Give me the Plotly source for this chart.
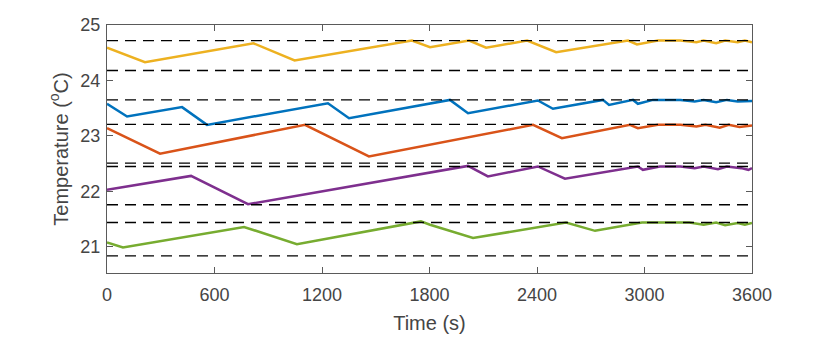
import plotly.graph_objects as go

# Time (s) and temperature (°C) for each zone
t_yellow = [0, 212, 818, 1047, 1702, 1803, 2021, 2116, 2345, 2507, 2908, 2958, 3075, 3200, 3290, 3330, 3400, 3450, 3520, 3560, 3600]
T_yellow = [24.59, 24.33, 24.67, 24.36, 24.72, 24.60, 24.72, 24.59, 24.72, 24.51, 24.72, 24.65, 24.72, 24.72, 24.69, 24.72, 24.67, 24.72, 24.69, 24.72, 24.69]

t_blue = [0, 112, 419, 558, 1233, 1351, 1914, 2015, 2405, 2489, 2768, 2802, 2936, 2963, 3047, 3200, 3280, 3330, 3400, 3460, 3520, 3600]
T_blue = [23.58, 23.35, 23.52, 23.20, 23.59, 23.32, 23.65, 23.41, 23.64, 23.49, 23.65, 23.56, 23.65, 23.58, 23.65, 23.65, 23.62, 23.65, 23.61, 23.65, 23.62, 23.63]

t_red = [0, 296, 1105, 1462, 2378, 2539, 2919, 2963, 3075, 3200, 3290, 3340, 3420, 3470, 3530, 3600]
T_red = [23.14, 22.68, 23.20, 22.63, 23.20, 22.96, 23.20, 23.14, 23.20, 23.20, 23.17, 23.20, 23.15, 23.20, 23.16, 23.19]

t_purple = [0, 469, 787, 2015, 2126, 2405, 2556, 2963, 2991, 3086, 3200, 3280, 3330, 3410, 3460, 3540, 3580, 3600]
T_purple = [22.03, 22.28, 21.77, 22.46, 22.27, 22.45, 22.23, 22.45, 22.39, 22.45, 22.45, 22.42, 22.45, 22.40, 22.45, 22.42, 22.39, 22.42]

t_green = [0, 89, 765, 1060, 1752, 1803, 2043, 2562, 2724, 2986, 3100, 3250, 3330, 3400, 3450, 3520, 3560, 3600]
T_green = [21.08, 20.99, 21.36, 21.05, 21.46, 21.40, 21.16, 21.44, 21.29, 21.44, 21.44, 21.44, 21.40, 21.44, 21.39, 21.43, 21.40, 21.43]

# Comfort band limits (dashed lines)
limits = [24.72, 24.18, 23.65, 23.21, 22.51, 22.45, 21.76, 21.44, 20.84]

x_ticks = [0, 600, 1200, 1800, 2400, 3000, 3600]
y_ticks = [21, 22, 23, 24, 25]

series = [
    (t_yellow, T_yellow, "#EDB120"),
    (t_blue, T_blue, "#0072BD"),
    (t_red, T_red, "#D95319"),
    (t_purple, T_purple, "#7E2F8E"),
    (t_green, T_green, "#77AC30"),
]

fig = go.Figure()
for t, T, c in series:
    fig.add_trace(go.Scatter(x=t, y=T, mode="lines", line=dict(color=c, width=2.5),
                             showlegend=False, hoverinfo="skip"))
for v in limits:
    fig.add_trace(go.Scatter(x=[0, 3600], y=[v, v], mode="lines",
                             line=dict(color="black", width=1.3, dash="11px,7px"),
                             showlegend=False, hoverinfo="skip"))

font_fam = "Liberation Sans Narrow, Liberation Sans, Arial, sans-serif"
txt_color = "#454545"
axis_common = dict(showgrid=False, zeroline=False, showline=True, linecolor="#5a5a5a",
                   linewidth=1, mirror="ticks", ticks="inside", ticklen=6, tickcolor="#5a5a5a",
                   tickfont=dict(family=font_fam, size=18, color=txt_color))

fig.update_layout(
    width=830, height=337,
    margin=dict(l=99, r=86, t=17, b=72, autoexpand=False),
    paper_bgcolor="white", plot_bgcolor="white",
    xaxis=dict(range=[0, 3600], tickvals=x_ticks, ticktext=[str(v) for v in x_ticks],
               ticklabelstandoff=5,
               title=dict(text="Time (s)", font=dict(family=font_fam, size=20, color=txt_color), standoff=12),
               **axis_common),
    yaxis=dict(range=[20.53, 25], tickvals=y_ticks, ticktext=[str(v) for v in y_ticks],
               ticklabelstandoff=2,
               title=dict(text="Temperature (<sup>o</sup>C)", font=dict(family=font_fam, size=20, color=txt_color), standoff=6),
               **axis_common),
)

fig.write_html("out.html")
